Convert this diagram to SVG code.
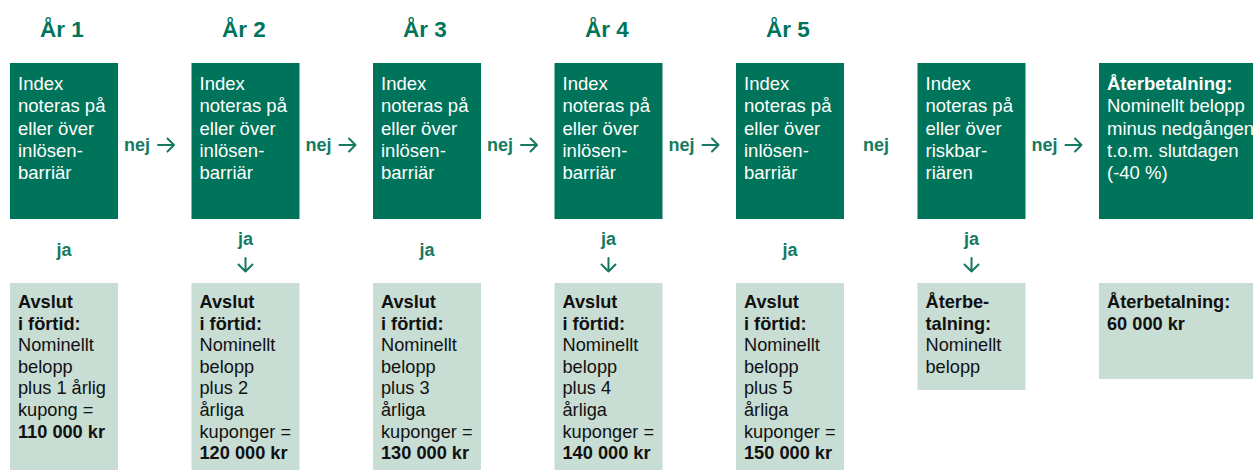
<svg xmlns="http://www.w3.org/2000/svg" width="1253" height="470" viewBox="0 0 1253 470">
<style>
.dk{fill:#00745A}
.lt{fill:#C8DDD4}
.t{font-family:"Liberation Sans",Arial,sans-serif;}
.title{font-size:22.5px;font-weight:bold;fill:#00745A;text-anchor:middle}
.wt{font-size:18.5px;fill:#FFFFFF}
.bt{font-size:18.2px;fill:#111111}
.b{font-weight:bold}
.lab{font-size:18px;font-weight:bold;fill:#157A5F}
.arr{fill:none;stroke:#157A5F;stroke-width:2;stroke-linecap:round;stroke-linejoin:round}
</style>
<rect width="1253" height="470" fill="#FFFFFF"/>
<g class="t">
<text class="title t" x="62" y="37">År 1</text>
<text class="title t" x="244" y="37">År 2</text>
<text class="title t" x="425" y="37">År 3</text>
<text class="title t" x="607" y="37">År 4</text>
<text class="title t" x="788" y="37">År 5</text>
</g>
<g id="q1"><rect class="dk" x="10" y="63" width="108" height="156"/>
<text class="t wt" x="18" y="90">Index<tspan x="18" dy="22.3">noteras på</tspan><tspan x="18" dy="22.3">eller över</tspan><tspan x="18" dy="22.3">inlösen-</tspan><tspan x="18" dy="22.3">barriär</tspan></text></g>
<g id="q2"><rect class="dk" x="191.5" y="63" width="108" height="156"/>
<text class="t wt" x="199.5" y="90">Index<tspan x="199.5" dy="22.3">noteras på</tspan><tspan x="199.5" dy="22.3">eller över</tspan><tspan x="199.5" dy="22.3">inlösen-</tspan><tspan x="199.5" dy="22.3">barriär</tspan></text></g>
<g id="q3"><rect class="dk" x="373" y="63" width="108" height="156"/>
<text class="t wt" x="381" y="90">Index<tspan x="381" dy="22.3">noteras på</tspan><tspan x="381" dy="22.3">eller över</tspan><tspan x="381" dy="22.3">inlösen-</tspan><tspan x="381" dy="22.3">barriär</tspan></text></g>
<g id="q4"><rect class="dk" x="554.5" y="63" width="108" height="156"/>
<text class="t wt" x="562.5" y="90">Index<tspan x="562.5" dy="22.3">noteras på</tspan><tspan x="562.5" dy="22.3">eller över</tspan><tspan x="562.5" dy="22.3">inlösen-</tspan><tspan x="562.5" dy="22.3">barriär</tspan></text></g>
<g id="q5"><rect class="dk" x="736" y="63" width="108" height="156"/>
<text class="t wt" x="744" y="90">Index<tspan x="744" dy="22.3">noteras på</tspan><tspan x="744" dy="22.3">eller över</tspan><tspan x="744" dy="22.3">inlösen-</tspan><tspan x="744" dy="22.3">barriär</tspan></text></g>
<g id="q6"><rect class="dk" x="917.5" y="63" width="108" height="156"/>
<text class="t wt" x="925.5" y="90">Index<tspan x="925.5" dy="22.3">noteras på</tspan><tspan x="925.5" dy="22.3">eller över</tspan><tspan x="925.5" dy="22.3">riskbar-</tspan><tspan x="925.5" dy="22.3">riären</tspan></text></g>
<g id="q7"><rect class="dk" x="1099" y="63" width="160" height="156"/>
<text class="t wt" x="1107" y="90"><tspan class="b">Återbetalning:</tspan><tspan x="1107" dy="22.3">Nominellt belopp</tspan><tspan x="1107" dy="22.3">minus nedgången</tspan><tspan x="1107" dy="22.3">t.o.m. slutdagen</tspan><tspan x="1107" dy="22.3">(-40 %)</tspan></text></g>

<g id="r1"><rect class="lt" x="10" y="283" width="108" height="190"/>
<text class="t bt" x="18" y="308"><tspan class="b">Avslut</tspan><tspan class="b" x="18" dy="21.6">i förtid:</tspan><tspan x="18" dy="21.6">Nominellt</tspan><tspan x="18" dy="21.6">belopp</tspan><tspan x="18" dy="21.6">plus 1 årlig</tspan><tspan x="18" dy="21.6">kupong =</tspan><tspan class="b" x="18" dy="21.6">110 000 kr</tspan></text></g>
<g id="r2"><rect class="lt" x="191.5" y="283" width="108" height="190"/>
<text class="t bt" x="199.5" y="308"><tspan class="b">Avslut</tspan><tspan class="b" x="199.5" dy="21.6">i förtid:</tspan><tspan x="199.5" dy="21.6">Nominellt</tspan><tspan x="199.5" dy="21.6">belopp</tspan><tspan x="199.5" dy="21.6">plus 2</tspan><tspan x="199.5" dy="21.6">årliga</tspan><tspan x="199.5" dy="21.6">kuponger =</tspan><tspan class="b" x="199.5" dy="21.6">120 000 kr</tspan></text></g>
<g id="r3"><rect class="lt" x="373" y="283" width="108" height="190"/>
<text class="t bt" x="381" y="308"><tspan class="b">Avslut</tspan><tspan class="b" x="381" dy="21.6">i förtid:</tspan><tspan x="381" dy="21.6">Nominellt</tspan><tspan x="381" dy="21.6">belopp</tspan><tspan x="381" dy="21.6">plus 3</tspan><tspan x="381" dy="21.6">årliga</tspan><tspan x="381" dy="21.6">kuponger =</tspan><tspan class="b" x="381" dy="21.6">130 000 kr</tspan></text></g>
<g id="r4"><rect class="lt" x="554.5" y="283" width="108" height="190"/>
<text class="t bt" x="562.5" y="308"><tspan class="b">Avslut</tspan><tspan class="b" x="562.5" dy="21.6">i förtid:</tspan><tspan x="562.5" dy="21.6">Nominellt</tspan><tspan x="562.5" dy="21.6">belopp</tspan><tspan x="562.5" dy="21.6">plus 4</tspan><tspan x="562.5" dy="21.6">årliga</tspan><tspan x="562.5" dy="21.6">kuponger =</tspan><tspan class="b" x="562.5" dy="21.6">140 000 kr</tspan></text></g>
<g id="r5"><rect class="lt" x="736" y="283" width="108" height="190"/>
<text class="t bt" x="744" y="308"><tspan class="b">Avslut</tspan><tspan class="b" x="744" dy="21.6">i förtid:</tspan><tspan x="744" dy="21.6">Nominellt</tspan><tspan x="744" dy="21.6">belopp</tspan><tspan x="744" dy="21.6">plus 5</tspan><tspan x="744" dy="21.6">årliga</tspan><tspan x="744" dy="21.6">kuponger =</tspan><tspan class="b" x="744" dy="21.6">150 000 kr</tspan></text></g>
<g id="r6"><rect class="lt" x="917.5" y="283" width="108" height="107"/>
<text class="t bt" x="925.5" y="308"><tspan class="b">Återbe-</tspan><tspan class="b" x="925.5" dy="21.6">talning:</tspan><tspan x="925.5" dy="21.6">Nominellt</tspan><tspan x="925.5" dy="21.6">belopp</tspan></text></g>
<g id="r7"><rect class="lt" x="1099" y="283" width="160" height="96"/>
<text class="t bt b" x="1107" y="308">Återbetalning:<tspan x="1107" dy="21.6">60 000 kr</tspan></text></g>

<g id="connectors">
<text class="t lab" x="124" y="151">nej</text><path class="arr" d="M158 145H174M167.5 138.5L174 145L167.5 151.5"/>
<text class="t lab" x="305.5" y="151">nej</text><path class="arr" d="M339.5 145H355.5M349 138.5L355.5 145L349 151.5"/>
<text class="t lab" x="487" y="151">nej</text><path class="arr" d="M521 145H537M530.5 138.5L537 145L530.5 151.5"/>
<text class="t lab" x="668.5" y="151">nej</text><path class="arr" d="M702.5 145H718.5M712 138.5L718.5 145L712 151.5"/>
<text class="t lab" x="863" y="151">nej</text>
<text class="t lab" x="1031.5" y="151">nej</text><path class="arr" d="M1065.5 145H1081.5M1075 138.5L1081.5 145L1075 151.5"/>
<text class="t lab" x="64" y="256" text-anchor="middle">ja</text>
<text class="t lab" x="245.5" y="245" text-anchor="middle">ja</text><path class="arr" d="M245.5 258V271.5M238.5 264.5L245.5 271.5L252.5 264.5"/>
<text class="t lab" x="427" y="256" text-anchor="middle">ja</text>
<text class="t lab" x="608.5" y="245" text-anchor="middle">ja</text><path class="arr" d="M608.5 258V271.5M601.5 264.5L608.5 271.5L615.5 264.5"/>
<text class="t lab" x="790" y="256" text-anchor="middle">ja</text>
<text class="t lab" x="971.5" y="245" text-anchor="middle">ja</text><path class="arr" d="M971.5 258V271.5M964.5 264.5L971.5 271.5L978.5 264.5"/>
</g>
</svg>
